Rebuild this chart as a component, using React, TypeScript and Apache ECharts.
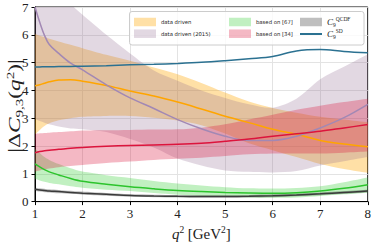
import React, { useEffect, useRef } from "react";
import * as echarts from "echarts";

// q^2 sample points (GeV^2)
const q = [1, 1.1, 1.2, 1.3, 1.5, 1.75, 2, 2.5, 3, 3.5, 4, 4.5, 5, 5.5, 6, 6.5, 7, 7.5, 8];
const xTicks = [1, 2, 3, 4, 5, 6, 7, 8];
const yTicks = [0, 1, 2, 3, 4, 5, 6, 7];

// data driven (orange)
const ddCentral = [4.17, 4.2, 4.26, 4.31, 4.37, 4.38, 4.33, 4.18, 3.98, 3.8, 3.58, 3.33, 3.07, 2.84, 2.6, 2.42, 2.2, 2.07, 1.97];
const ddUpper = [6.03, 5.97, 5.92, 5.86, 5.76, 5.64, 5.52, 5.28, 5.07, 4.82, 4.58, 4.27, 3.92, 3.6, 3.37, 3.2, 3.05, 2.95, 2.85];
const ddLower = [2.42, 2.58, 2.72, 2.82, 2.93, 3.0, 3.05, 3.08, 3.08, 3.02, 2.92, 2.75, 2.45, 2.1, 1.85, 1.6, 1.35, 1.17, 1.03];

// data driven (2015) (purple)
const dd15Central = [7.0, 6.45, 5.98, 5.65, 5.33, 4.98, 4.74, 4.2, 3.73, 3.35, 2.95, 2.62, 2.35, 2.2, 2.2, 2.35, 2.65, 3.02, 3.5];
const dd15Upper = [8.7, 8.4, 8.1, 7.9, 7.5, 7.1, 6.72, 6.0, 5.33, 4.72, 4.35, 4.0, 3.73, 3.5, 3.38, 3.7, 4.4, 4.85, 5.3];
const dd15Lower = [2.97, 2.9, 2.84, 2.78, 2.7, 2.63, 2.6, 2.5, 2.25, 1.95, 1.55, 1.3, 1.12, 1.07, 1.05, 1.1, 1.3, 1.45, 1.6];

// based on [67] (green)
const b67Central = [1.36, 1.25, 1.15, 1.07, 0.96, 0.83, 0.73, 0.62, 0.53, 0.46, 0.4, 0.36, 0.33, 0.31, 0.3, 0.32, 0.38, 0.48, 0.61];
const b67Upper = [1.9, 1.75, 1.6, 1.5, 1.35, 1.2, 1.08, 0.95, 0.85, 0.74, 0.65, 0.58, 0.52, 0.48, 0.47, 0.49, 0.55, 0.7, 0.87];
const b67Lower = [0.82, 0.76, 0.71, 0.67, 0.62, 0.55, 0.5, 0.43, 0.38, 0.31, 0.25, 0.2, 0.17, 0.15, 0.14, 0.15, 0.2, 0.26, 0.32];

// based on [34] (crimson)
const b34Central = [1.76, 1.8, 1.83, 1.85, 1.88, 1.92, 1.95, 1.99, 2.02, 2.04, 2.06, 2.1, 2.17, 2.25, 2.35, 2.44, 2.53, 2.65, 2.77];
const b34Upper = [2.44, 2.46, 2.47, 2.48, 2.5, 2.53, 2.56, 2.57, 2.58, 2.59, 2.6, 2.66, 2.78, 2.95, 3.12, 3.3, 3.45, 3.58, 3.7];
const b34Lower = [1.08, 1.12, 1.16, 1.19, 1.24, 1.28, 1.32, 1.39, 1.44, 1.5, 1.54, 1.58, 1.64, 1.7, 1.73, 1.73, 1.73, 1.76, 1.8];

// C9 QCDF (grey/black)
const qcdfCentral = [0.44, 0.42, 0.4, 0.38, 0.36, 0.33, 0.3, 0.26, 0.22, 0.2, 0.19, 0.185, 0.185, 0.19, 0.21, 0.24, 0.28, 0.33, 0.38];
const qcdfUpper = [0.5, 0.48, 0.46, 0.44, 0.42, 0.39, 0.36, 0.31, 0.27, 0.25, 0.24, 0.23, 0.23, 0.24, 0.26, 0.29, 0.33, 0.38, 0.43];
const qcdfLower = [0.38, 0.36, 0.34, 0.33, 0.3, 0.28, 0.25, 0.21, 0.18, 0.16, 0.15, 0.14, 0.14, 0.15, 0.16, 0.19, 0.23, 0.28, 0.33];

// C9 SD (teal line)
const sdCentral = [4.84, 4.845, 4.85, 4.852, 4.856, 4.86, 4.87, 4.89, 4.92, 4.94, 4.97, 5.01, 5.07, 5.14, 5.22, 5.42, 5.47, 5.4, 5.35];

const SERIF = "'Liberation Serif', 'DejaVu Serif', serif";
const SANS = "'DejaVu Sans', 'Liberation Sans', sans-serif";

const C_ORANGE = "rgba(255,165,0,0.35)";
const C_PURPLE = "rgba(140,100,140,0.25)";
const C_GREEN = "rgba(50,205,50,0.3)";
const C_PINK = "rgba(220,20,60,0.3)";
const C_GREY = "rgba(0,0,0,0.25)";

function pairs(ys: number[]) {
  return q.map((x, i) => [x, ys[i]]);
}

// Catmull-Rom style smooth path through pixel points
function smoothSegs(pts: number[][], t: number) {
  let d = "";
  for (let i = 0; i < pts.length - 1; i++) {
    const p0 = pts[i - 1] || pts[i];
    const p1 = pts[i];
    const p2 = pts[i + 1];
    const p3 = pts[i + 2] || p2;
    const c1x = p1[0] + ((p2[0] - p0[0]) / 6) * t;
    const c1y = p1[1] + ((p2[1] - p0[1]) / 6) * t;
    const c2x = p2[0] - ((p3[0] - p1[0]) / 6) * t;
    const c2y = p2[1] - ((p3[1] - p1[1]) / 6) * t;
    d += ` C${c1x.toFixed(2)},${c1y.toFixed(2)} ${c2x.toFixed(2)},${c2y.toFixed(2)} ${p2[0].toFixed(2)},${p2[1].toFixed(2)}`;
  }
  return d;
}

function band(name: string, lower: number[], upper: number[], color: string) {
  return {
    name,
    type: "custom",
    coordinateSystem: "cartesian2d",
    clip: true,
    silent: true,
    z: 1,
    itemStyle: { color },
    data: [[q[0], lower[0]]],
    renderItem: (_params: any, api: any) => {
      const up = q.map((x, i) => api.coord([x, upper[i]]));
      const lo = q.map((x, i) => api.coord([x, lower[i]])).reverse();
      const d =
        `M${up[0][0].toFixed(2)},${up[0][1].toFixed(2)}` +
        smoothSegs(up, 0.9) +
        ` L${lo[0][0].toFixed(2)},${lo[0][1].toFixed(2)}` +
        smoothSegs(lo, 0.9) +
        " Z";
      return { type: "path", shape: { pathData: d }, style: { fill: color } };
    },
  };
}

function line(name: string, ys: number[], color: string, width = 1.5, z = 3) {
  return {
    name,
    type: "line",
    data: pairs(ys),
    symbol: "none",
    smooth: 0.35,
    itemStyle: { color },
    lineStyle: { color, width },
    silent: true,
    z,
  };
}

const legendText = { fontSize: 5.3, fontFamily: SANS, color: "#222" };

export default function App() {
  const ref = useRef<HTMLDivElement>(null);
  useEffect(() => {
    if (!ref.current) return;
    const chart = echarts.init(ref.current, undefined, { renderer: "svg" });
    const option: any = {
      animation: false,
      backgroundColor: "#fff",
      grid: {
        left: 35,
        right: 5,
        top: 7,
        bottom: 41,
        show: true,
        borderColor: "#000",
        borderWidth: 1,
        backgroundColor: "transparent",
      },
      xAxis: {
        type: "value",
        min: 1,
        max: 8,
        interval: 1,
        axisLine: { show: true, lineStyle: { color: "#000", width: 1 } },
        axisTick: { show: true, inside: false, length: 3.5, lineStyle: { color: "#000" } },
        axisLabel: {
          margin: 5,
          fontSize: 13,
          fontFamily: SERIF,
          color: "#222",
          formatter: (v: number) => (xTicks.includes(v) ? String(v) : ""),
        },
        splitLine: { show: true, lineStyle: { color: "#e3e3e3", width: 1 } },
        name: "{i|q}{p|2} {n|[GeV}{p|2}{n|]}",
        nameLocation: "middle",
        nameGap: 17,
        nameTextStyle: {
          rich: {
            i: { fontFamily: SERIF, fontStyle: "italic", fontSize: 15, lineHeight: 18, color: "#222" },
            n: { fontFamily: SERIF, fontSize: 15, lineHeight: 18, color: "#222" },
            p: { fontFamily: SERIF, fontSize: 9.5, lineHeight: 10, verticalAlign: "top", color: "#222" },
          },
        },
      },
      yAxis: {
        type: "value",
        min: 0,
        max: 7,
        interval: 1,
        axisLine: { show: true, lineStyle: { color: "#000", width: 1 } },
        axisTick: { show: true, inside: false, length: 3.5, lineStyle: { color: "#000" } },
        axisLabel: {
          margin: 6.5,
          fontSize: 13,
          fontFamily: SERIF,
          color: "#222",
          formatter: (v: number) => (yTicks.includes(v) ? String(v) : ""),
        },
        splitLine: { show: true, lineStyle: { color: "#e3e3e3", width: 1 } },
      },
      legend: [
        {
          left: 134,
          top: 17.75,
          orient: "vertical",
          padding: 0,
          itemWidth: 22,
          itemHeight: 8.5,
          itemGap: 3.2,
          selectedMode: false,
          z: 10,
          textStyle: legendText,
          data: [
            { name: "data driven", icon: "rect", itemStyle: { color: C_ORANGE, borderWidth: 0 } },
            { name: "data driven (2015)", icon: "rect", itemStyle: { color: C_PURPLE, borderWidth: 0 } },
          ],
        },
        {
          left: 229,
          top: 17.75,
          orient: "vertical",
          padding: 0,
          itemWidth: 22,
          itemHeight: 8.5,
          itemGap: 3.2,
          selectedMode: false,
          z: 10,
          textStyle: legendText,
          data: [
            { name: "based on [67]", icon: "rect", itemStyle: { color: C_GREEN, borderWidth: 0 } },
            { name: "based on [34]", icon: "rect", itemStyle: { color: C_PINK, borderWidth: 0 } },
          ],
        },
        {
          left: 299,
          top: 16,
          orient: "vertical",
          padding: 0,
          itemWidth: 22,
          itemHeight: 8.5,
          itemGap: 0,
          selectedMode: false,
          z: 10,
          formatter: (name: string) =>
            name === "C9QCDF" ? "{c|C}{s|9}{p|QCDF}" : "{c|C}{s|9}{p|SD}",
          textStyle: {
            color: "#222",
            rich: {
              c: { fontFamily: SERIF, fontStyle: "italic", fontSize: 9, lineHeight: 12, color: "#222" },
              s: { fontFamily: SERIF, fontSize: 5.5, lineHeight: 6, verticalAlign: "bottom", color: "#222" },
              p: { fontFamily: SERIF, fontSize: 5.5, lineHeight: 6, verticalAlign: "top", color: "#222" },
            },
          },
          data: [
            { name: "C9QCDF", icon: "rect", itemStyle: { color: C_GREY, borderWidth: 0 } },
            { name: "C9SD", itemStyle: { opacity: 0 } },
          ],
        },
      ],
      graphic: [
        {
          type: "rect",
          z: 8,
          shape: { x: 129.5, y: 11.5, width: 234.5, height: 33.5, r: 2.5 },
          style: { fill: "rgba(255,255,255,0.8)", stroke: "#cccccc", lineWidth: 1 },
          silent: true,
        },
        {
          type: "text",
          z: 8,
          x: 14.5,
          y: 106,
          rotation: Math.PI / 2,
          scaleX: 1.45,
          scaleY: 1,
          silent: true,
          style: {
            text: "{n||Δ}{i|C}{s|9,3}{n|(}{i|q}{p|2}{n|)|}",
            align: "center",
            verticalAlign: "middle",
            rich: {
              i: { fontFamily: SERIF, fontStyle: "italic", fontSize: 16, lineHeight: 20, fill: "#222" },
              n: { fontFamily: SERIF, fontSize: 16, lineHeight: 20, fill: "#222" },
              s: { fontFamily: SERIF, fontSize: 10.5, lineHeight: 10, verticalAlign: "bottom", fill: "#222" },
              p: { fontFamily: SERIF, fontSize: 10.5, lineHeight: 10, verticalAlign: "top", fill: "#222" },
            },
          },
        },
      ],
      series: [
        band("data driven", ddLower, ddUpper, C_ORANGE),
        band("data driven (2015)", dd15Lower, dd15Upper, C_PURPLE),
        band("based on [67]", b67Lower, b67Upper, C_GREEN),
        band("based on [34]", b34Lower, b34Upper, C_PINK),
        band("C9QCDF", qcdfLower, qcdfUpper, C_GREY),
        line("dd_line", ddCentral, "#FFA500"),
        line("dd15_line", dd15Central, "#a288b4"),
        line("b67_line", b67Central, "#2cc42c"),
        line("b34_line", b34Central, "#DC143C"),
        line("qcdf_line", qcdfCentral, "#3a3a3a"),
        line("C9SD", sdCentral, "#2b7191", 1.5, 4),
      ],
    };
    chart.setOption(option);
    return () => chart.dispose();
  }, []);
  return (
    <div
      ref={ref}
      style={{ position: "fixed", left: 0, top: 0, width: 374, height: 246 }}
    />
  );
}
